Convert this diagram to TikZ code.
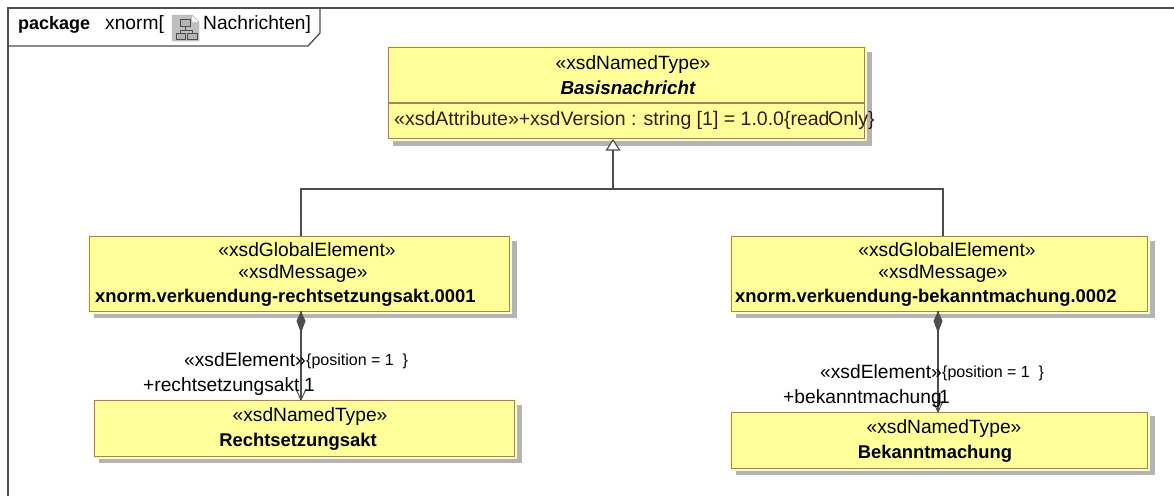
\documentclass[tikz,border=0pt]{standalone}
\usepackage{fontspec}
\setmainfont{Liberation Sans}
\definecolor{umlfill}{HTML}{FFFF99}
\definecolor{umlhalo}{HTML}{FFFFCC}
\definecolor{umlline}{HTML}{A5835A}
\definecolor{umlshadow}{HTML}{B4B4B4}
\definecolor{linkc}{HTML}{4D4D4D}
\definecolor{attrc}{HTML}{3A1A10}
\tikzset{
 x=1pt,y=-1pt,
 umlbox/.style={draw=umlline,fill=umlfill,line width=1.4pt,inner sep=0,anchor=north west,preaction={draw=umlhalo,line width=3.6pt}},
 lbl/.style={inner sep=0pt,font=\fontsize{19.2}{22}\selectfont,anchor=base},
 lbll/.style={inner sep=0pt,font=\fontsize{19.2}{22}\selectfont,anchor=base west},
 small/.style={inner sep=0pt,font=\fontsize{16}{18}\selectfont,anchor=base west},
 blbl/.style={inner sep=0pt,anchor=base,font=\fontsize{18.4}{22}\selectfont\bfseries},
 link/.style={draw=linkc,line width=1.15pt},
 icon/.style={draw=linkc,line width=.9pt,fill=umlshadow},
}
\begin{document}
\begin{tikzpicture}
\useasboundingbox (0,0) rectangle (1174,496);
\fill[white] (0,0) rectangle (1174,496);
% frame
\draw[linkc,line width=1.3pt] (1174,8) -- (8,8) -- (8,496);
\draw[linkc,line width=1.3pt] (8,46) -- (308,46) -- (320,33) -- (320,8);
\node[lbll,font=\fontsize{18}{22}\selectfont\bfseries] (pk) at (18,29) {package};
\node[lbll] (xn) at (105,29) {xnorm[};
% package icon
\path[fill=umlshadow!85,draw=umlshadow] (172,15) -- (192,15) -- (199,22) -- (199,41) -- (172,41) -- cycle;
\path[fill=white,draw=umlshadow] (192,15) -- (199,22) -- (192,22) -- cycle;
\draw[linkc,line width=.9pt] (185,26) -- (185,30) (180.5,33) -- (180.5,30) -- (192,30) -- (192,33);
\draw[icon] (180,19) rectangle (190,26);
\draw[icon] (176,33) rectangle (185,39);
\draw[icon] (187,33) rectangle (197,39);
\node[lbll] (na) at (203,29) {Nachrichten]};
% Shadows
\fill[umlshadow] (393,52) rectangle (872,146);
\fill[umlshadow] (94,241) rectangle (517,318);
\fill[umlshadow] (736,241) rectangle (1155,318);
\fill[umlshadow] (99,405) rectangle (522,463);
\fill[umlshadow] (736,416) rectangle (1155,475);
% Boxes
\node[umlbox,minimum width=476,minimum height=91] (base) at (388,47) {};
\draw[umlline,line width=1.4pt] (base.west |- 0,103) -- (base.east |- 0,103);
\node[umlbox,minimum width=420,minimum height=75] (rs) at (89,236) {};
\node[umlbox,minimum width=416,minimum height=75] (bk) at (731,236) {};
\node[umlbox,minimum width=420,minimum height=56] (rt) at (94,400) {};
\node[umlbox,minimum width=416,minimum height=56] (bt) at (731,412) {};
% texts
\node[lbl] at (633,69) {«xsdNamedType»};
\node[blbl,font=\fontsize{18.8}{22}\selectfont\bfseries\itshape] at (628,94) {Basisnachricht};
\node[lbll,text=attrc,font=\fontsize{19.5}{22}\selectfont] at (394,125) {«xsdAttribute»+xsdVersion : string [1] = 1.0.0\{read\kern-1.5ptOnly\}};
\node[lbl] at (307,256) {«xsdGlobalElement»};
\node[lbl] at (303,278) {«xsdMessage»};
\node[blbl,anchor=base west] at (95,302) {xnorm.verkuendung-rechtsetzungsakt.0001};
\node[lbl] at (947,256) {«xsdGlobalElement»};
\node[lbl] at (943,278) {«xsdMessage»};
\node[blbl,anchor=base west] at (735,302) {xnorm.verkuendung-bekanntmachung.0002};
\node[lbl] at (310,421) {«xsdNamedType»};
\node[blbl] at (298,446) {Rechtsetzungsakt};
\node[lbl] at (944,433) {«xsdNamedType»};
\node[blbl] at (935,458) {Bekanntmachung};
% connector nodes
\coordinate (rsb) at (301,311);
\coordinate (bkb) at (938,311);
\coordinate (rtt) at (301,400);
\coordinate (btt) at (938,412);
\draw[link] (301,236) -- (301,189) -- (943,189) -- (943,236);
\draw[link] (613,189) -- (613,150);
\draw[link,fill=white,line join=miter] (613,140) -- (606.5,150) -- (619.5,150) -- cycle;
\draw[link] (rsb) -- (rtt);
\fill[linkc] (rsb) -- +(4.5,10) -- +(0,22) -- +(-4.5,10) -- cycle;
\draw[link,line width=1pt] (rtt) -- +(-5,-11) (rtt) -- +(5,-11);
\draw[link] (bkb) -- (btt);
\fill[linkc] (bkb) -- +(4.5,10) -- +(0,22) -- +(-4.5,10) -- cycle;
\draw[link,line width=1pt] (btt) -- +(-5,-11) (btt) -- +(5,-11);
% link labels
\node[lbll] at (184,366) {«xsdElement»};
\node[small] at (306,365) {\{position = 1 \ \}};
\node[lbll] at (143,391) {+rechtsetzungsakt};
\node[lbll] at (304,391) {1};
\node[lbll] at (820,378) {«xsdElement»};
\node[small] at (942,377) {\{position = 1 \ \}};
\node[lbll] at (783,403) {+bekanntmachung};
\node[lbll] at (939,403) {1};
\end{tikzpicture}
\end{document}
